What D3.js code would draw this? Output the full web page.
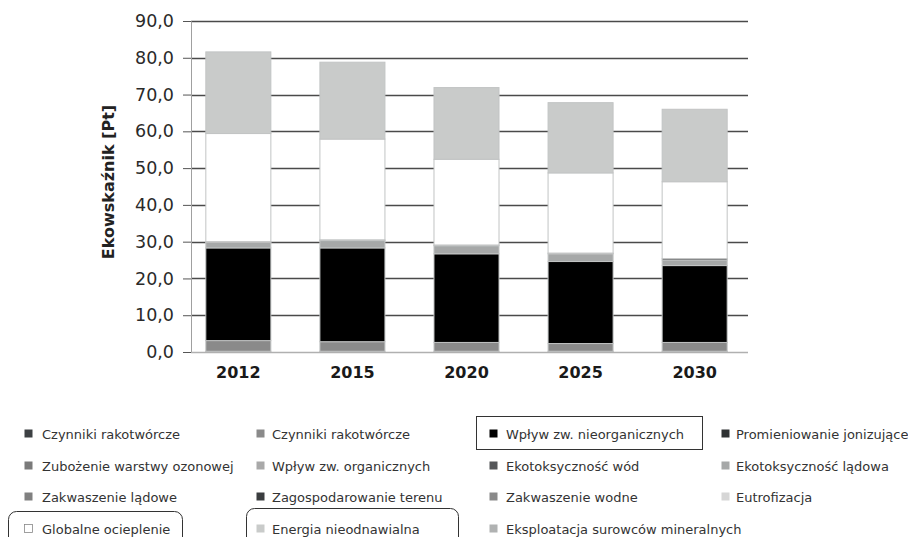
<!DOCTYPE html>
<html>
<head>
<meta charset="utf-8">
<script src="https://cdn.jsdelivr.net/npm/d3@7/dist/d3.min.js"></script>
<style>
  html, body { margin: 0; padding: 0; background: #fff; }
  svg { display: block; }
</style>
</head>
<body>
<svg id="chart" width="908" height="537"></svg>
<script>
// ---- data ----
const years = ["2012", "2015", "2020", "2025", "2030"];
const seriesNames = [
  "Czynniki rakotwórcze",
  "Czynniki rakotwórcze ",
  "Wpływ zw. nieorganicznych",
  "Promieniowanie jonizujące",
  "Zubożenie warstwy ozonowej",
  "Wpływ zw. organicznych",
  "Ekotoksyczność wód",
  "Ekotoksyczność lądowa",
  "Zakwaszenie lądowe",
  "Zagospodarowanie terenu",
  "Zakwaszenie wodne",
  "Eutrofizacja",
  "Globalne ocieplenie",
  "Energia nieodnawialna",
  "Eksploatacja surowców mineralnych"
];
const czynnikiA       = [0.2, 0.2, 0.2, 0.2, 0.2];
const czynnikiB       = [2.9, 2.6, 2.4, 2.1, 2.4];
const nieorganiczne   = [25.2, 25.5, 24.1, 22.3, 20.9];
const promieniowanie  = [0, 0, 0, 0, 0];
const ozon            = [0, 0, 0, 0, 0];
const organiczne      = [0, 0, 0, 0, 0];
const ekoWod          = [0, 0, 0, 0, 0];
const ekoLadowa       = [1.5, 2.0, 2.2, 2.1, 1.5];
const zakwLadowe      = [0, 0, 0, 0, 0];
const zagospodarowanie= [0.2, 0.2, 0.2, 0.2, 0.4];
const zakwWodne       = [0, 0, 0, 0, 0];
const eutrofizacja    = [0, 0, 0, 0, 0];
const ocieplenie      = [29.4, 27.4, 23.3, 21.8, 20.9];
const energia         = [22.2, 20.9, 19.5, 19.1, 19.7];
const eksploatacja    = [0, 0, 0, 0, 0];
const seriesValues = [czynnikiA, czynnikiB, nieorganiczne, promieniowanie, ozon, organiczne,
  ekoWod, ekoLadowa, zakwLadowe, zagospodarowanie, zakwWodne, eutrofizacja,
  ocieplenie, energia, eksploatacja];
const yTicks = [0, 10, 20, 30, 40, 50, 60, 70, 80, 90];
const yTitle = "Ekowskaźnik [Pt]";

// ---- styles ----
const colors = ["#3d4043", "#8a8a8a", "#000000", "#2e3133", "#7a7a7a", "#a9a9a9",
  "#555759", "#a6a8a8", "#808080", "#3a3d3f", "#8a8a8a", "#d6d6d6",
  "#ffffff", "#c9cbca", "#b0b2b2"];

const svg = d3.select("#chart");
const pLeft = 191, pRight = 748, pTop = 21, pBottom = 352;

const x = d3.scaleBand().domain(years).range([191, 742]).paddingInner(0.43).paddingOuter(0.13);
const y = d3.scaleLinear().domain([0, 90]).range([pBottom, pTop]);

// table for stack
const table = years.map((yr, i) => {
  const row = { year: yr };
  seriesNames.forEach((s, k) => row[s] = seriesValues[k][i]);
  return row;
});
const stacked = d3.stack().keys(seriesNames)(table);

// gridlines
svg.append("g").selectAll("line").data(yTicks.filter(t => t > 0)).join("line")
  .attr("x1", pLeft).attr("x2", pRight)
  .attr("y1", d => Math.round(y(d)) + 0.5).attr("y2", d => Math.round(y(d)) + 0.5)
  .attr("stroke", "#4a4a4a").attr("stroke-width", 1.6);

// bars
const layers = svg.append("g").selectAll("g").data(stacked).join("g")
  .attr("fill", (d, i) => colors[i]);
layers.selectAll("rect").data(d => d.filter(p => p[1] - p[0] > 0)).join("rect")
  .attr("x", d => x(d.data.year))
  .attr("width", x.bandwidth())
  .attr("y", d => y(d[1]))
  .attr("height", d => y(d[0]) - y(d[1]))
  .attr("stroke", "#c2c4c4").attr("stroke-width", 1);

// axes
const yAxis = d3.axisLeft(y).tickValues(yTicks).tickSize(8)
  .tickFormat(d => d3.format(".1f")(d).replace(".", ","));
const gy = svg.append("g").attr("transform", `translate(${pLeft},0)`).call(yAxis);
gy.select(".domain").attr("stroke", "#a0a0a0");
gy.selectAll(".tick line").attr("stroke", "#555");
gy.selectAll("text").attr("font-family", "DejaVu Sans").attr("font-size", 17.5)
  .attr("fill", "#2a2a2a").attr("x", -17);

// bottom line
svg.append("line").attr("x1", pLeft).attr("x2", pRight)
  .attr("y1", pBottom + 0.5).attr("y2", pBottom + 0.5)
  .attr("stroke", "#b0b0b0").attr("stroke-width", 1.5);

const xAxis = d3.axisBottom(x).tickSize(0).tickPadding(15);
const gx = svg.append("g").attr("transform", `translate(0,${pBottom})`).call(xAxis);
gx.select(".domain").remove();
gx.selectAll("text").attr("font-family", "DejaVu Sans").attr("font-weight", "bold")
  .attr("font-size", 16).attr("fill", "#1a1a1a");

// y title
svg.append("text").attr("transform", "translate(114,182) rotate(-90)")
  .attr("text-anchor", "middle").attr("font-family", "DejaVu Sans").attr("font-weight", "bold")
  .attr("font-size", 16).attr("fill", "#222").text(yTitle);

// legend
const colX = [24, 256, 489, 721];
const textX = [42, 272, 506, 736];
const rowY = [434, 466, 497, 529];
const legend = svg.append("g");
seriesNames.forEach((name, i) => {
  const c = i % 4, r = Math.floor(i / 4);
  legend.append("rect").attr("x", colX[c] + 0.5).attr("y", rowY[r] - 4.5)
    .attr("width", 8).attr("height", 8).attr("fill", colors[i])
    .attr("stroke", i === 12 ? "#888" : "none").attr("stroke-width", 0.8);
  legend.append("text").attr("x", textX[c]).attr("y", rowY[r] + 4.5)
    .attr("font-family", "DejaVu Sans").attr("font-size", 13).attr("fill", "#333")
    .text(name.trim());
});
// highlight boxes
legend.append("rect").attr("x", 476.5).attr("y", 416.5).attr("width", 226).attr("height", 33)
  .attr("fill", "none").attr("stroke", "#333").attr("stroke-width", 1);
legend.append("rect").attr("x", 8.5).attr("y", 511.5).attr("width", 174).attr("height", 40)
  .attr("rx", 8).attr("fill", "none").attr("stroke", "#333").attr("stroke-width", 1);
legend.append("rect").attr("x", 246.5).attr("y", 508.5).attr("width", 212).attr("height", 43)
  .attr("rx", 8).attr("fill", "none").attr("stroke", "#333").attr("stroke-width", 1);
</script>
</body>
</html>
